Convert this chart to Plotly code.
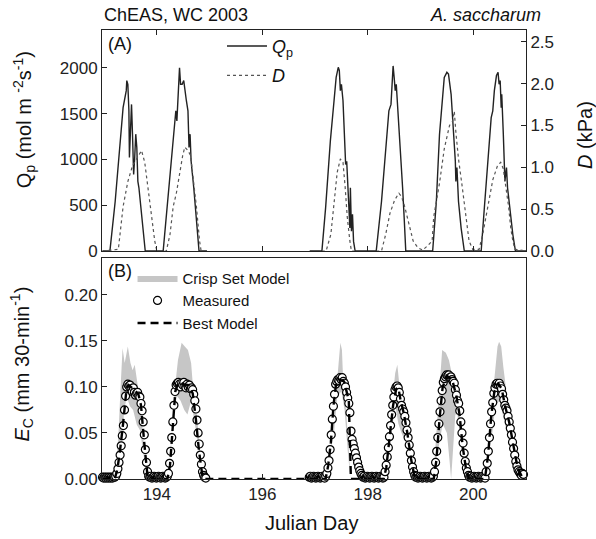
import plotly.graph_objects as go

FONT = "Liberation Sans, Arial, sans-serif"

# ---------------- Panel A: Qp (left axis) and D (right axis) ----------------
qp_day = [192.97, 193.11, 193.21, 193.30, 193.36, 193.42, 193.43, 193.45, 193.47, 193.48, 193.50,
          193.52, 193.54, 193.56, 193.58, 193.60, 193.62, 193.64, 193.66, 193.69, 193.74, 193.78,
          194.12, 194.18, 194.26, 194.32, 194.36, 194.38, 194.41, 194.43, 194.45, 194.48, 194.51,
          194.53, 194.56, 194.59, 194.61, 194.63, 194.65, 194.70, 194.75, 194.80, 194.95,
          None,
          196.90, 197.13, 197.20, 197.29, 197.36, 197.40, 197.44, 197.46, 197.48, 197.50, 197.53,
          197.55, 197.58, 197.60, 197.62, 197.64, 197.66, 197.67, 197.69, 197.71, 197.73, 197.76,
          198.16, 198.26, 198.34, 198.40, 198.44, 198.45, 198.48, 198.50, 198.52, 198.54, 198.57,
          198.60, 198.63, 198.66, 198.69, 198.72,
          199.23, 199.30, 199.36, 199.41, 199.45, 199.50, 199.53, 199.58, 199.61, 199.64, 199.66,
          199.67, 199.69, 199.72, 199.77, 199.83,
          200.15, 200.21, 200.27, 200.34, 200.37, 200.40, 200.44, 200.47, 200.49, 200.51, 200.53,
          200.54, 200.57, 200.58, 200.60, 200.63, 200.65, 200.68, 200.71, 200.75, 200.80, 201.00]
qp_val = [0, 0, 540, 1200, 1565, 1750, 1860, 1820, 1530, 1020, 1455,
          1600, 1240, 835, 1020, 1275, 1130, 760, 690, 505, 215, 0,
          0, 400, 910, 1350, 1530, 1420, 1710, 2000, 1820, 1820, 1860,
          1750, 1640, 1530, 1130, 1275, 980, 690, 360, 0, 0,
          None,
          0, 0, 470, 1200, 1640, 1895, 2005, 1970, 1750, 1820, 1640,
          1345, 945, 980, 690, 540, 250, 690, 215, 400, 105, 0,
          0, 540, 1165, 1530, 1600, 1710, 2020, 1895, 1750, 1820, 1565,
          1275, 980, 690, 360, 0,
          0, 540, 1275, 1640, 1895, 1950, 1930, 1710, 1420, 1200, 980,
          760, 910, 540, 250, 0,
          0, 470, 980, 1455, 1530, 1750, 1915, 1950, 1820, 1860, 1565,
          1710, 1275, 1055, 760, 910, 690, 540, 360, 180, 0, 0]

d_day = [192.97, 193.27, 193.36, 193.45, 193.54, 193.65, 193.71, 193.77, 193.83, 193.90, 193.96, 194.00,
         194.18, 194.25, 194.31, 194.37, 194.43, 194.49, 194.53, 194.59, 194.64, 194.68, 194.75, 194.81,
         194.84, 194.95,
         None,
         196.90, 197.21, 197.30, 197.36, 197.42, 197.48, 197.53, 197.57, 197.61, 197.66, 197.69,
         198.26, 198.34, 198.42, 198.51, 198.59, 198.64, 198.70, 198.76, 198.86, 198.95, 199.04, 199.13,
         199.22, 199.25, 199.36, 199.45, 199.55, 199.61, 199.64, 199.67, 199.72, 199.79, 199.85, 199.92,
         199.99,
         200.11, 200.18, 200.27, 200.37, 200.46, 200.52, 200.57, 200.62, 200.67, 200.71, 200.75, 200.79,
         201.00]
d_val = [0.0, 0.02, 0.53, 0.83, 1.02, 1.14, 1.20, 1.06, 0.77, 0.45, 0.12, 0.0,
         0.0, 0.20, 0.53, 0.69, 0.94, 1.14, 1.24, 1.20, 1.14, 0.94, 0.53, 0.12,
         0.0, 0.0,
         None,
         0.0, 0.0, 0.20, 0.61, 0.94, 1.10, 1.06, 0.77, 0.41, 0.12, 0.0,
         0.0, 0.20, 0.45, 0.61, 0.69, 0.65, 0.53, 0.37, 0.12, 0.04, 0.01, 0.06,
         0.12, 0.41, 0.81, 1.22, 1.50, 1.55, 1.67, 1.42, 1.10, 0.77, 0.45, 0.12,
         0.02,
         0.02, 0.20, 0.53, 0.85, 1.02, 1.06, 0.98, 0.77, 0.53, 0.28, 0.12, 0.02,
         0.0]

# ---------------- Panel B: canopy transpiration Ec ----------------
# measured, half-hourly samples starting at the given day
meas_a_start = 192.97
meas_a = [0.002, 0.001, 0.002, 0.001, 0.002, 0.001, 0.002, 0.001, 0.002, 0.001, 0.002, 0.002,
          0.003, 0.006, 0.011, 0.018, 0.026, 0.036, 0.047, 0.058, 0.075, 0.090,
          0.100, 0.103, 0.101, 0.102, 0.098, 0.095, 0.099, 0.094, 0.091, 0.093,
          0.094, 0.090, 0.089, 0.082, 0.074, 0.062, 0.048, 0.032, 0.018, 0.008,
          0.003,
          0.002, 0.003, 0.001, 0.002, 0.003, 0.002, 0.001, 0.002, 0.003, 0.002, 0.001, 0.002,
          0.003, 0.002, 0.001, 0.002, 0.003,
          0.006, 0.017, 0.030, 0.045, 0.062, 0.080, 0.095, 0.102, 0.104, 0.105,
          0.103, 0.100, 0.104, 0.102, 0.105, 0.101, 0.099, 0.103, 0.100, 0.102,
          0.098, 0.099, 0.097, 0.092, 0.085, 0.076, 0.064, 0.050, 0.038, 0.026,
          0.016, 0.008, 0.004, 0.002, 0.001]
meas_b_start = 196.89
meas_b = [0.002, 0.003, 0.001, 0.002, 0.003, 0.002, 0.001, 0.002, 0.003, 0.002, 0.001, 0.002,
          0.003, 0.002, 0.001, 0.003,
          0.006, 0.012, 0.020, 0.032, 0.048, 0.065, 0.079, 0.092,
          0.103, 0.106, 0.108, 0.107, 0.110, 0.108, 0.110, 0.106, 0.104,
          0.100, 0.094, 0.088, 0.082, 0.072, 0.052, 0.043, 0.038, 0.033, 0.028, 0.023, 0.018,
          0.013, 0.009, 0.006, 0.004,
          0.002, 0.003, 0.001, 0.002, 0.003, 0.002, 0.001, 0.002, 0.003, 0.002, 0.001, 0.002,
          0.003, 0.002, 0.001, 0.002, 0.003, 0.002, 0.001, 0.002,
          0.008, 0.015, 0.024, 0.034, 0.046, 0.058, 0.070, 0.080, 0.089, 0.097, 0.100, 0.101,
          0.099, 0.094, 0.087, 0.080, 0.076, 0.073, 0.068, 0.061, 0.053, 0.045, 0.037, 0.028,
          0.020, 0.013, 0.008, 0.004,
          0.002, 0.003, 0.001, 0.002, 0.003, 0.002, 0.001, 0.002, 0.003, 0.002, 0.001, 0.002,
          0.003, 0.002, 0.001, 0.002, 0.003,
          0.008, 0.018, 0.030, 0.045, 0.060, 0.073, 0.085, 0.096, 0.105, 0.109, 0.111, 0.113,
          0.112, 0.113, 0.110, 0.111, 0.108, 0.106, 0.104, 0.097, 0.091, 0.085, 0.082, 0.074,
          0.062, 0.050, 0.039, 0.028, 0.019, 0.012, 0.008, 0.004,
          0.002, 0.003, 0.001, 0.002, 0.003, 0.002, 0.001, 0.002, 0.003, 0.002, 0.001, 0.002,
          0.003, 0.002, 0.001,
          0.008, 0.017, 0.030, 0.045, 0.060, 0.073, 0.083, 0.093, 0.099, 0.103,
          0.104, 0.102, 0.104, 0.101, 0.098, 0.092, 0.086, 0.080, 0.077, 0.074,
          0.068, 0.062, 0.055, 0.048, 0.040, 0.033, 0.026, 0.019, 0.014, 0.010,
          0.008, 0.006, 0.004, 0.006, 0.005]
SAMPLES_PER_DAY = 48

model_day = [192.97, 193.20, 193.25, 193.30, 193.36, 193.42, 193.46, 193.55, 193.65, 193.70, 193.76,
             193.82, 193.86,
             194.20, 194.25, 194.30, 194.35, 194.40, 194.60, 194.68, 194.74, 194.80, 194.86, 194.90,
             197.20, 197.25, 197.30, 197.35, 197.40, 197.45, 197.55, 197.62, 197.64, 197.68,
             198.30, 198.35, 198.42, 198.48, 198.54, 198.58, 198.62, 198.68, 198.75, 198.82, 198.88,
             198.92,
             199.25, 199.30, 199.36, 199.42, 199.50, 199.60, 199.68, 199.74, 199.80, 199.86, 199.92,
             200.22, 200.28, 200.34, 200.40, 200.47, 200.54, 200.60, 200.68, 200.76, 200.84, 200.92,
             201.00]
model_ec = [0, 0, 0.01, 0.03, 0.06, 0.095, 0.102, 0.098, 0.092, 0.08, 0.04,
            0.005, 0,
            0, 0.015, 0.06, 0.095, 0.104, 0.102, 0.093, 0.065, 0.03, 0.005, 0,
            0, 0.015, 0.04, 0.08, 0.104, 0.108, 0.106, 0.09, 0.085, 0,
            0, 0.012, 0.05, 0.08, 0.098, 0.099, 0.086, 0.072, 0.05, 0.022, 0.004,
            0,
            0, 0.02, 0.065, 0.10, 0.112, 0.108, 0.09, 0.07, 0.035, 0.012, 0,
            0, 0.025, 0.068, 0.095, 0.104, 0.098, 0.08, 0.062, 0.035, 0.012, 0.003,
            0]

crisp_up_day = [193.21, 193.27, 193.31, 193.35, 193.39, 193.45, 193.50, 193.54, 193.58, 193.63, 193.67,
                193.71, 193.75, 193.79, 193.82, None,
                194.22, 194.28, 194.34, 194.40, 194.47, 194.53, 194.59, 194.65, 194.68, 194.75, 194.80,
                194.84, 194.89, None,
                197.20, 197.26, 197.36, 197.40, 197.44, 197.48, 197.51, 197.53, 197.57, 197.61, 197.64,
                197.67, None,
                198.33, 198.42, 198.48, 198.52, 198.56, 198.59, 198.64, 198.70, 198.76, 198.82, 198.87,
                None,
                199.24, 199.32, 199.37, 199.41, 199.48, 199.54, 199.59, 199.64, 199.68, 199.74, 199.79,
                199.83, 199.87, None,
                200.22, 200.30, 200.33, 200.40, 200.46, 200.49, 200.53, 200.57, 200.62, 200.68, 200.74,
                200.81, 200.87, 200.93]
crisp_up = [0, 0.046, 0.097, 0.142, 0.126, 0.144, 0.126, 0.118, 0.124, 0.106, 0.089,
            0.068, 0.039, 0.013, 0, None,
            0, 0.046, 0.097, 0.129, 0.148, 0.144, 0.140, 0.126, 0.104, 0.075, 0.046,
            0.017, 0, None,
            0, 0.010, 0.068, 0.097, 0.129, 0.148, 0.140, 0.111, 0.089, 0.061, 0.032,
            0, None,
            0, 0.05, 0.093, 0.115, 0.124, 0.104, 0.079, 0.061, 0.042, 0.021, 0,
            None,
            0, 0.068, 0.111, 0.140, 0.137, 0.129, 0.115, 0.111, 0.089, 0.068, 0.039,
            0.017, 0, None,
            0, 0.039, 0.068, 0.111, 0.144, 0.149, 0.144, 0.122, 0.097, 0.068, 0.042,
            0.024, 0.010, 0]
crisp_lo_day = [193.21, 193.33, 193.38, 193.43, 193.49, 193.55, 193.62, 193.68, 193.74, 193.80, 193.82,
                None,
                194.22, 194.32, 194.38, 194.45, 194.52, 194.58, 194.65, 194.72, 194.80, 194.89, None,
                197.20, 197.36, 197.42, 197.50, 197.56, 197.62, 197.67, None,
                198.33, 198.45, 198.52, 198.58, 198.64, 198.72, 198.80, 198.87, None,
                199.24, 199.36, 199.42, 199.50, 199.55, 199.58, 199.61, 199.66, 199.70, 199.76, 199.82,
                199.87, None,
                200.22, 200.36, 200.42, 200.50, 200.56, 200.64, 200.72, 200.82, 200.93]
crisp_lo = [0, 0.032, 0.075, 0.089, 0.079, 0.075, 0.059, 0.053, 0.03, 0.005, 0,
            None,
            0, 0.07, 0.09, 0.085, 0.075, 0.07, 0.085, 0.06, 0.03, 0, None,
            0, 0.05, 0.09, 0.095, 0.075, 0.03, 0, None,
            0, 0.05, 0.08, 0.06, 0.05, 0.04, 0.015, 0, None,
            0, 0.04, 0.06, 0.05, 0.02, 0.0, 0.02, 0.07, 0.07, 0.04, 0.01,
            0, None,
            0, 0.05, 0.08, 0.085, 0.07, 0.05, 0.03, 0.01, 0]

day_ticks = [194, 196, 198, 200]
qp_ticks = [0, 500, 1000, 1500, 2000]
d_ticks = [0.0, 0.5, 1.0, 1.5, 2.0, 2.5]
ec_ticks = [0.00, 0.05, 0.10, 0.15, 0.20]


def split_segments(seq):
    segs, cur = [], []
    for v in seq:
        if v is None:
            segs.append(cur)
            cur = []
        else:
            cur.append(v)
    segs.append(cur)
    return segs


# build closed polygons for the crisp-set band
band_x, band_y = [], []
for ux, uy, lx, ly in zip(split_segments(crisp_up_day), split_segments(crisp_up),
                          split_segments(crisp_lo_day), split_segments(crisp_lo)):
    if band_x:
        band_x.append(None)
        band_y.append(None)
    band_x += ux + lx[::-1]
    band_y += uy + ly[::-1]

meas_day = [meas_a_start + i / SAMPLES_PER_DAY for i in range(len(meas_a))] + \
           [meas_b_start + i / SAMPLES_PER_DAY for i in range(len(meas_b))]
meas_ec = meas_a + meas_b

fig = go.Figure()

# Panel A
fig.add_trace(go.Scatter(x=qp_day, y=qp_val, mode="lines", xaxis="x2", yaxis="y",
                         line=dict(color="#222222", width=1.4),
                         name="<i>Q</i><sub>p</sub>", legend="legend", legendgroup="qp"))
fig.add_trace(go.Scatter(x=d_day, y=d_val, mode="lines", xaxis="x2", yaxis="y2",
                         line=dict(color="#555555", width=1.2, dash="dot"),
                         name="<i>D</i>", legend="legend", legendgroup="d"))

# Panel B
fig.add_trace(go.Scatter(x=band_x, y=band_y, mode="lines", fill="toself",
                         fillcolor="#c6c6c6", line=dict(width=0, color="#c6c6c6"),
                         xaxis="x", yaxis="y3", name="Crisp Set Model",
                         legend="legend2", hoverinfo="skip"))
fig.add_trace(go.Scatter(x=meas_day, y=meas_ec, mode="markers", xaxis="x", yaxis="y3",
                         marker=dict(symbol="circle", size=8, color="white",
                                     line=dict(color="black", width=1.2)),
                         cliponaxis=False, name="Measured", legend="legend2"))
fig.add_trace(go.Scatter(x=model_day, y=model_ec, mode="lines", xaxis="x", yaxis="y3",
                         line=dict(color="black", width=2.4, dash="8px,5px"),
                         cliponaxis=False, name="Best Model", legend="legend2"))

tickfont = dict(family=FONT, size=17, color="#222222")
axis_common = dict(showline=True, linecolor="#222222", linewidth=1, ticks="inside",
                   ticklen=5, tickcolor="#222222", showgrid=False, zeroline=False,
                   tickfont=tickfont)
xr = [192.96, 201.0]
top_dom = [0.5078, 1.0]
bot_dom = [0.0, 0.4922]

fig.update_layout(
    width=596, height=539, autosize=False,
    margin=dict(l=102, r=70, t=30, b=60),
    paper_bgcolor="white", plot_bgcolor="white",
    font=dict(family=FONT, size=16, color="#111111"),
    xaxis=dict(domain=[0, 1], anchor="y3", range=xr, tickvals=day_ticks,
               mirror=True, **axis_common),
    yaxis3=dict(domain=bot_dom, anchor="x", range=[0, 0.24], tickvals=ec_ticks,
                tickformat=".2f", mirror=True, **axis_common),
    xaxis2=dict(domain=[0, 1], anchor="y", range=xr, tickvals=day_ticks,
                showticklabels=False, mirror="ticks", **axis_common),
    yaxis=dict(domain=top_dom, anchor="x2", range=[0, 2412], tickvals=qp_ticks,
               **axis_common),
    yaxis2=dict(overlaying="y", side="right", anchor="x2", range=[0, 2.64],
                tickvals=d_ticks, tickformat=".1f", **axis_common),
    legend=dict(x=0.283, y=1.005, xanchor="left", yanchor="top",
                bgcolor="rgba(0,0,0,0)", font=dict(family=FONT, size=18, color="#111111"),
                tracegroupgap=3, itemwidth=40),
    legend2=dict(x=0.072, y=0.484, xanchor="left", yanchor="top",
                 bgcolor="rgba(0,0,0,0)", font=dict(family=FONT, size=15, color="#111111"),
                 itemwidth=40, tracegroupgap=0),
    showlegend=True,
)

ann_font = dict(family=FONT, size=20, color="#111111")
fig.add_annotation(text="Julian Day", xref="paper", yref="paper", x=0.493, y=-0.098,
                   showarrow=False, font=ann_font, xanchor="center", yanchor="middle")
fig.add_annotation(text="Q<sub>p</sub> (mol m <sup>-2</sup>s<sup>-1</sup>)", xref="paper",
                   yref="paper", x=-0.183, y=0.80, textangle=-90, showarrow=False,
                   font=ann_font, xanchor="center", yanchor="middle")
fig.add_annotation(text="<i>E</i><sub>C</sub> (mm 30-min<sup>-1</sup>)", xref="paper",
                   yref="paper", x=-0.19, y=0.256, textangle=-90, showarrow=False,
                   font=ann_font, xanchor="center", yanchor="middle")
fig.add_annotation(text="<i>D</i> (kPa)", xref="paper", yref="paper", x=1.139, y=0.766,
                   textangle=-90, showarrow=False, font=ann_font,
                   xanchor="center", yanchor="middle")
fig.add_annotation(text="ChEAS, WC 2003", xref="paper", yref="paper", x=0.0, y=1.0,
                   yshift=3, showarrow=False, font=dict(family=FONT, size=18, color="#111111"),
                   xanchor="left", yanchor="bottom")
fig.add_annotation(text="<i>A. saccharum</i>", xref="paper", yref="paper", x=1.04, y=1.0,
                   yshift=3, showarrow=False, font=dict(family=FONT, size=18, color="#111111"),
                   xanchor="right", yanchor="bottom")
fig.add_annotation(text="(A)", xref="paper", yref="paper", x=0.01, y=0.995, showarrow=False,
                   font=dict(family=FONT, size=18, color="#111111"), xanchor="left",
                   yanchor="top")
fig.add_annotation(text="(B)", xref="paper", yref="paper", x=0.01, y=0.49, showarrow=False,
                   font=dict(family=FONT, size=18, color="#111111"), xanchor="left",
                   yanchor="top")

fig.write_html("out.html")
